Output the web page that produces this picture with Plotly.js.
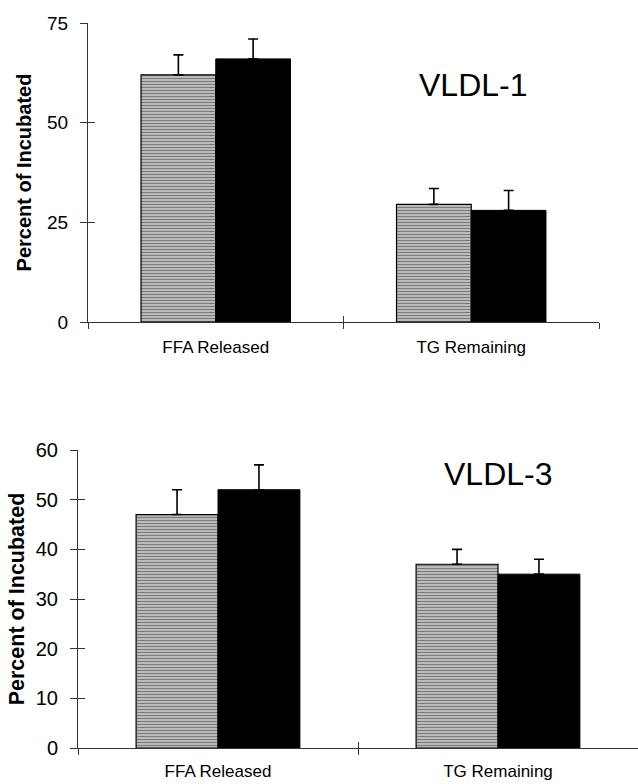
<!DOCTYPE html>
<html>
<head>
<meta charset="utf-8">
<script src="https://cdn.plot.ly/plotly-3.0.1.min.js"></script>
<style>html,body{margin:0;padding:0;background:#fff;}#chart{width:638px;height:784px;}</style>
</head>
<body>
<div id="chart"></div>
<script>
// ---- data ----
var categories = ['FFA Released', 'TG Remaining'];
var vldl1Hatched = [62, 29.5];
var vldl1HatchedErr = [5, 4];
var vldl1Black = [66, 28];
var vldl1BlackErr = [5, 5];
var vldl3Hatched = [47, 37];
var vldl3HatchedErr = [5, 3];
var vldl3Black = [52, 35];
var vldl3BlackErr = [5, 3];
var yTicks1 = [0, 25, 50, 75];
var yTicks3 = [0, 10, 20, 30, 40, 50, 60];
var panelTitles = ['VLDL-1', 'VLDL-3'];
var yTitle = 'Percent of Incubated';

var FONT = 'Liberation Sans, Arial, Helvetica, sans-serif';
var zeros = [0, 0];

function hatchedBar(y, err, xa, ya) {
  return {
    type: 'bar', x: categories, y: y, xaxis: xa, yaxis: ya, showlegend: false,
    marker: {color: '#ffffff', line: {color: '#000', width: 1.2},
      pattern: {shape: '-', size: 3, solidity: 0.65, fgcolor: '#000', bgcolor: '#f5f5f5', fillmode: 'overlay'}},
    error_y: {type: 'data', array: err, arrayminus: zeros, symmetric: false, color: '#000', thickness: 1.6, width: 5}
  };
}
function blackBar(y, err, xa, ya) {
  return {
    type: 'bar', x: categories, y: y, xaxis: xa, yaxis: ya, showlegend: false,
    marker: {color: '#000', line: {color: '#000', width: 1}},
    error_y: {type: 'data', array: err, arrayminus: zeros, symmetric: false, color: '#000', thickness: 1.6, width: 5}
  };
}
// invisible helper traces so that the overlay tick axes are drawn
function helper(xa, ya) {
  return {type: 'scatter', mode: 'markers', x: [0], y: [0], xaxis: xa, yaxis: ya,
    marker: {opacity: 0, size: 1}, hoverinfo: 'skip', showlegend: false};
}

var data = [
  hatchedBar(vldl1Hatched, vldl1HatchedErr, 'x', 'y'),
  blackBar(vldl1Black, vldl1BlackErr, 'x', 'y'),
  hatchedBar(vldl3Hatched, vldl3HatchedErr, 'x2', 'y2'),
  blackBar(vldl3Black, vldl3BlackErr, 'x2', 'y2'),
  helper('x3', 'y3'),
  helper('x4', 'y4')
];

var W = 638, H = 784;
var dx1 = [88 / W, 599 / W], dy1 = [(H - 322) / H, (H - 23) / H];
var dx2 = [78 / W, 1], dy2 = [(H - 748) / H, (H - 450) / H];

function catAxis(domain, anchor, fs, so) {
  return {domain: domain, anchor: anchor, type: 'category', range: [-0.5, 1.5],
    showline: true, linecolor: '#333', linewidth: 1, showgrid: false, zeroline: false,
    ticks: 'outside', tickson: 'boundaries', ticklen: 6, tickcolor: '#333', tickwidth: 1,
    ticklabelstandoff: so, tickfont: {family: FONT, size: fs, color: '#000'}, automargin: false, fixedrange: true};
}
function valAxis(domain, anchor, range, ticks, fs, tfs, so) {
  return {domain: domain, anchor: anchor, range: range, tickvals: ticks,
    showline: true, linecolor: '#333', linewidth: 1, showgrid: false, zeroline: false,
    ticks: 'outside', ticklen: 7, tickcolor: '#333', tickwidth: 1, ticklabelstandoff: 8,
    tickfont: {family: FONT, size: fs, color: '#000'}, automargin: false, fixedrange: true,
    title: {text: yTitle, font: {family: FONT, size: tfs, color: '#000', weight: 'bold'}, standoff: so}};
}
function overlayX(over, anchor) {
  return {overlaying: over, anchor: anchor, type: 'linear', range: [-0.5, 1.5], tickvals: [-0.5, 0.5, 1.5],
    ticks: 'inside', ticklen: 6, tickcolor: '#333', tickwidth: 1, showticklabels: false,
    showline: false, showgrid: false, zeroline: false, fixedrange: true};
}
function overlayY(over, anchor, range, ticks) {
  return {overlaying: over, anchor: anchor, range: range, tickvals: ticks,
    ticks: 'inside', ticklen: 7, tickcolor: '#333', tickwidth: 1, showticklabels: false,
    showline: false, showgrid: false, zeroline: false, fixedrange: true};
}

var layout = {
  width: W, height: H, margin: {l: 0, r: 0, t: 0, b: 0},
  paper_bgcolor: '#fff', plot_bgcolor: 'rgba(0,0,0,0)',
  barmode: 'group', bargap: 0.415, bargroupgap: 0,
  showlegend: false,
  xaxis: catAxis(dx1, 'y', 17, 10),
  yaxis: valAxis(dy1, 'x', [0, 75], yTicks1, 19, 20, 10),
  xaxis2: catAxis(dx2, 'y2', 17, 8),
  yaxis2: valAxis(dy2, 'x2', [0, 60], yTicks3, 20, 21.5, 5),
  xaxis3: overlayX('x', 'y'),
  yaxis3: overlayY('y', 'x', [0, 75], yTicks1),
  xaxis4: overlayX('x2', 'y2'),
  yaxis4: overlayY('y2', 'x2', [0, 60], yTicks3),
  annotations: [
    {text: panelTitles[0], xref: 'paper', yref: 'paper', x: 473 / W, y: (H - 85) / H, showarrow: false,
     xanchor: 'center', yanchor: 'middle', font: {family: FONT, size: 32, color: '#000'}},
    {text: panelTitles[1], xref: 'paper', yref: 'paper', x: 498 / W, y: (H - 474) / H, showarrow: false,
     xanchor: 'center', yanchor: 'middle', font: {family: FONT, size: 32, color: '#000'}}
  ]
};

Plotly.newPlot('chart', data, layout, {displayModeBar: false, staticPlot: true});
</script>
</body>
</html>
